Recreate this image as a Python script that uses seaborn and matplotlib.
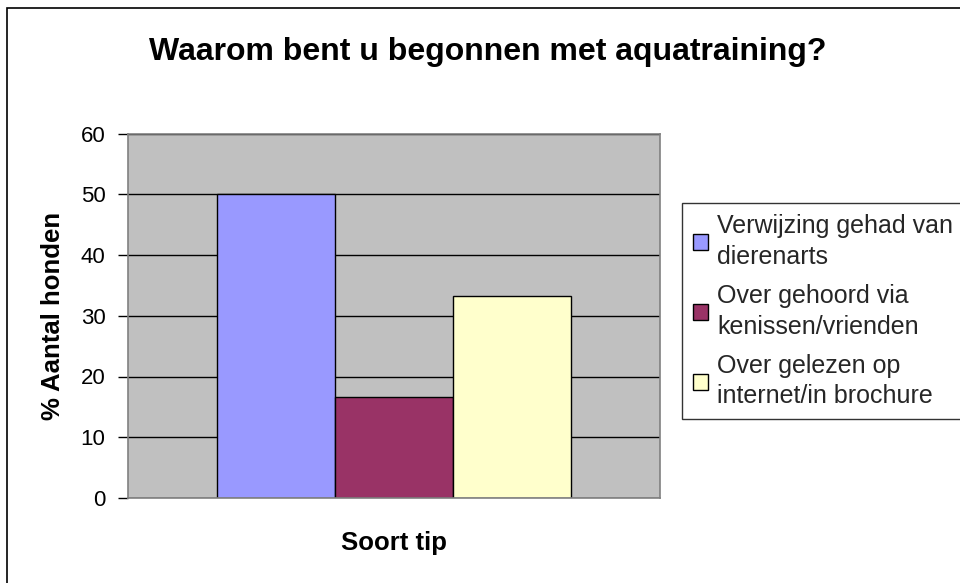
import matplotlib
matplotlib.use("Agg")
import matplotlib.pyplot as plt
import seaborn as sns
import pandas as pd
from matplotlib.patches import Patch, Rectangle

# ---- data ----
title = "Waarom bent u begonnen met aquatraining?"
x_label = "Soort tip"
y_label = "% Aantal honden"
categories = ["Verwijzing gehad van\ndierenarts",
              "Over gehoord via\nkenissen/vrienden",
              "Over gelezen op\ninternet/in brochure"]
values = [50.0, 16.7, 33.3]
colors = ["#9999FF", "#993366", "#FFFFCC"]
y_ticks = [0, 10, 20, 30, 40, 50, 60]

df = pd.DataFrame({"group": [""] * len(categories),
                   "category": categories,
                   "value": values})

sns.set_theme(style="white")
plt.rcParams["font.family"] = ["Liberation Sans", "DejaVu Sans"]

W, H = 960, 583
fig = plt.figure(figsize=(W / 100, H / 100), dpi=100)
fig.patch.set_facecolor("white")

# figure border
fig.patches.append(Rectangle((7 / W, -0.1), 1.2, 1 - 8 / H + 0.1,
                             transform=fig.transFigure, fill=False,
                             edgecolor="black", linewidth=1.2, zorder=0))

left, right, top, bottom = 127.7, 660, 133.5, 498
ax = fig.add_axes([left / W, 1 - bottom / H, (right - left) / W, (bottom - top) / H])

sns.barplot(data=df, x="group", y="value", hue="category", hue_order=categories,
            palette=colors, width=0.665, gap=0, saturation=1,
            edgecolor="black", linewidth=1, ax=ax, legend=False)

ax.set_facecolor("#C0C0C0")
ax.set_xlim(-0.5, 0.5)
ax.set_ylim(0, 60)
ax.set_yticks(y_ticks)
ax.set_xticks([])
ax.set_axisbelow(True)
ax.yaxis.grid(True, color="black", linewidth=1)
for s in ax.spines.values():
    s.set_color("#808080")
    s.set_linewidth(1.2)
ax.tick_params(axis="y", left=True, length=7, width=1, color="black",
               labelsize=16, labelcolor="black", pad=9)

ax.set_ylabel("")
ax.set_xlabel("")
fig.text(53 / W, 1 - 316 / H, y_label, ha="center", va="center", rotation=90,
         fontsize=18.5, fontweight="bold", color="black")
fig.text((left + right) / 2 / W, 1 - 543 / H, x_label, ha="center", va="center",
         fontsize=18.5, fontweight="bold", color="black")
fig.text(488 / W, 1 - 52 / H, title, ha="center", va="center",
         fontsize=23, fontweight="bold", color="black")

handles = [Patch(facecolor=c, edgecolor="black", linewidth=1) for c in colors]
leg = fig.legend(handles, categories, loc="upper left",
                 bbox_to_anchor=(682 / W, 1 - 203 / H),
                 bbox_transform=fig.transFigure,
                 fontsize=18, frameon=True, fancybox=False,
                 handlelength=0.6, handleheight=0.6, handletextpad=0.35,
                 labelspacing=0.6, borderpad=0.45, borderaxespad=0)
leg.get_frame().set_edgecolor("black")
leg.get_frame().set_linewidth(1)
for t in leg.get_texts():
    t.set_linespacing(1.35)

fig.savefig("out.png", dpi=100)
